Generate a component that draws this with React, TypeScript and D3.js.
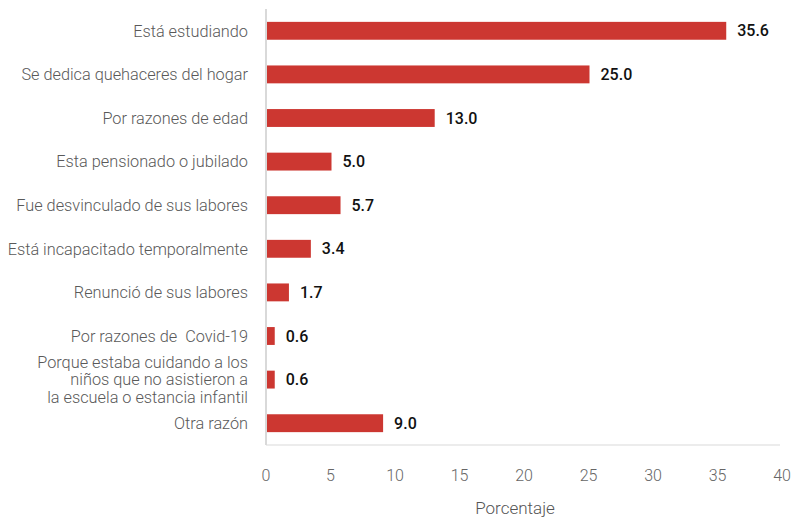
import React from "react";
import * as d3 from "d3";

const categories: string[][] = [
  ["Está estudiando"],
  ["Se dedica quehaceres del hogar"],
  ["Por razones de edad"],
  ["Esta pensionado o jubilado"],
  ["Fue desvinculado de sus labores"],
  ["Está incapacitado temporalmente"],
  ["Renunció de sus labores"],
  ["Por razones de  Covid-19"],
  ["Porque estaba cuidando a los", "niños que no asistieron a", "la escuela o estancia infantil"],
  ["Otra razón"],
];
const values: number[] = [35.6, 25.0, 13.0, 5.0, 5.7, 3.4, 1.7, 0.6, 0.6, 9.0];
const ticks: number[] = [0, 5, 10, 15, 20, 25, 30, 35, 40];
const xTitle = "Porcentaje";

export default function App() {
  const W = 793, H = 518;
  const x = d3.scaleLinear().domain([0, 40]).range([267, 783]);
  const y = d3
    .scaleBand<number>()
    .domain(d3.range(values.length))
    .range([9, 445])
    .paddingInner(0.59)
    .paddingOuter(0.295);
  const font = "Roboto, 'Noto Sans', sans-serif";
  return (
    <svg width={W} height={H} style={{ position: "absolute", left: 0, top: 0 }} fontFamily={font}>
      <rect width={W} height={H} fill="#fff" />
      {values.map((v, i) => (
        <rect
          key={i}
          x={x(0)}
          y={y(i)!}
          width={x(v) - x(0)}
          height={y.bandwidth()}
          fill="#CC3731"
        />
      ))}
      <line x1={266} x2={266} y1={9} y2={445} stroke="#d9d9d9" strokeWidth={2} />
      <line x1={266} x2={780} y1={445} y2={445} stroke="#d9d9d9" strokeWidth={1} />
      {values.map((v, i) => {
        const cy = y(i)! + y.bandwidth() / 2;
        return (
          <text
            key={i}
            x={x(v) + 11}
            y={cy}
            dy="0.35em"
            fontSize={16}
            fontWeight={500}
            fill="#111"
          >
            {v.toFixed(1)}
          </text>
        );
      })}
      {categories.map((lines, i) => {
        const cy = y(i)! + y.bandwidth() / 2;
        const lh = 17.5;
        const start = cy - ((lines.length - 1) * lh) / 2;
        return (
          <text key={i} x={248} textAnchor="end" fontSize={16.3} fill="#595959" fontWeight={300}>
            {lines.map((l, j) => (
              <tspan key={j} x={248} y={start + j * lh} dy="0.35em" style={{ whiteSpace: "pre" }}>
                {l}
              </tspan>
            ))}
          </text>
        );
      })}
      {ticks.map((t) => (
        <text
          key={t}
          x={x(t) - 1}
          y={475}
          dy="0.35em"
          textAnchor="middle"
          fontSize={16}
          fontWeight={300}
          fill="#666"
        >
          {t}
        </text>
      ))}
      <text x={515} y={508} dy="0.35em" textAnchor="middle" fontSize={17} fontWeight={300} fill="#555">
        {xTitle}
      </text>
    </svg>
  );
}
